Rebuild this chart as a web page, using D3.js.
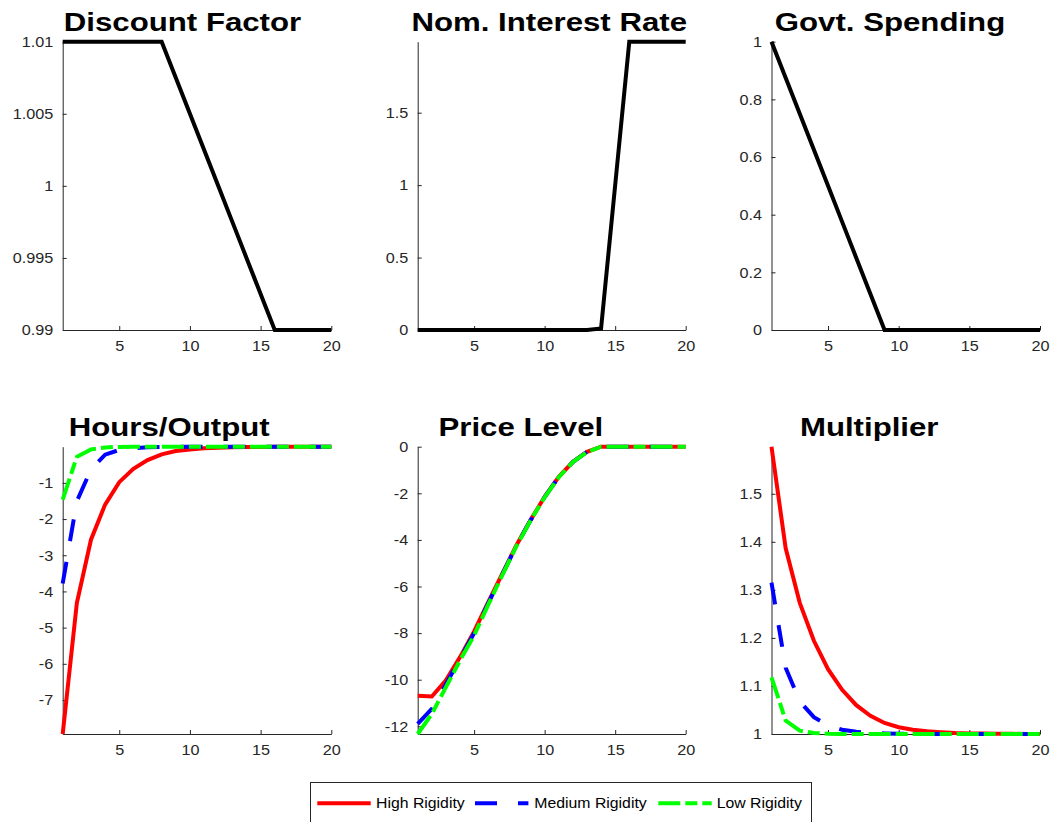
<!DOCTYPE html>
<html>
<head>
<meta charset="utf-8">
<script src="https://cdn.jsdelivr.net/npm/d3@7"></script>
<style>
  body { margin: 0; background: #fff; }
  svg { display: block; }
  text { font-family: "Liberation Sans", Arial, Helvetica, sans-serif; }
</style>
</head>
<body>
<svg id="chart" width="1054" height="822"></svg>
<script>
// ---- data: impulse responses over 20 quarters ----
const periods = d3.range(1, 21);

const discountFactor = [1.01, 1.01, 1.01, 1.01, 1.01, 1.01, 1.01, 1.01,
  1.0075, 1.005, 1.0025, 1.0, 0.9975, 0.995, 0.9925, 0.99, 0.99, 0.99, 0.99, 0.99];
const nominalRate = [0, 0, 0, 0, 0, 0, 0, 0, 0, 0, 0, 0, 0, 0.01, 1.0, 1.99, 1.99, 1.99, 1.99, 1.99];
const govSpending = [1, 0.875, 0.75, 0.625, 0.5, 0.375, 0.25, 0.125, 0, 0, 0, 0, 0, 0, 0, 0, 0, 0, 0, 0];

const hoursHigh = [-7.94, -4.32, -2.57, -1.60, -0.98, -0.61, -0.37, -0.21, -0.12, -0.075,
  -0.045, -0.027, -0.016, -0.010, -0.006, -0.0035, -0.002, -0.0012, -0.0007, -0.0004];
const hoursMedium = [-3.78, -1.51, -0.63, -0.22, -0.09, -0.04, -0.016, -0.007, -0.003, -0.0012,
  -0.0005, -0.0002, -0.0001, -0.0001, -0.0001, -0.0001, -0.0001, -0.0001, -0.0001, -0.0001];
const hoursLow = [-1.46, -0.28, -0.074, -0.02, -0.005, -0.0013, -0.0003, -0.0001, -0.0001, -0.0001,
  -0.0001, -0.0001, -0.0001, -0.0001, -0.0001, -0.0001, -0.0001, -0.0001, -0.0001, -0.0001];

const priceHigh = [-10.69, -10.72, -10.03, -9.03, -7.93, -6.67, -5.45, -4.23, -3.15, -2.15,
  -1.29, -0.65, -0.22, 0, 0, 0, 0, 0, 0, 0];
const priceMedium = [-11.9, -11.25, -10.2, -9.1, -8.0, -6.72, -5.48, -4.25, -3.16, -2.16,
  -1.30, -0.66, -0.22, 0, 0, 0, 0, 0, 0, 0];
const priceLow = [-12.33, -11.47, -10.32, -9.17, -8.1, -6.78, -5.51, -4.27, -3.17, -2.17,
  -1.31, -0.66, -0.23, 0, 0, 0, 0, 0, 0, 0];

const multiplierHigh = [1.598, 1.387, 1.273, 1.194, 1.135, 1.092, 1.060, 1.038, 1.023, 1.014,
  1.009, 1.0055, 1.0035, 1.002, 1.0013, 1.0008, 1.0005, 1.0003, 1.0002, 1.0001];
const multiplierMedium = [1.315, 1.138, 1.068, 1.035, 1.018, 1.009, 1.0045, 1.0022, 1.0011, 1.0005,
  1.0003, 1.0001, 1.0001, 1, 1, 1, 1, 1, 1, 1];
const multiplierLow = [1.118, 1.028, 1.007, 1.002, 1.0005, 1.0001, 1, 1, 1, 1,
  1, 1, 1, 1, 1, 1, 1, 1, 1, 1];

// ---- tick labels ----
const xTicks = [5, 10, 15, 20];
const discountTicks = [0.99, 0.995, 1, 1.005, 1.01];
const rateTicks = [0, 0.5, 1, 1.5];
const spendingTicks = [0, 0.2, 0.4, 0.6, 0.8, 1];
const hoursTicks = [-7, -6, -5, -4, -3, -2, -1];
const priceTicks = [-12, -10, -8, -6, -4, -2, 0];
const multiplierTicks = [1, 1.1, 1.2, 1.3, 1.4, 1.5];

const panelTitles = ["Discount Factor", "Nom. Interest Rate", "Govt. Spending",
  "Hours/Output", "Price Level", "Multiplier"];
const rigidityLabels = ["High Rigidity", "Medium Rigidity", "Low Rigidity"];

// ---- styling ----
const rigidityStyles = [
  { color: "#ff0000", dash: null },
  { color: "#0000ff", dash: "22,21" },
  { color: "#00ff00", dash: "22,5,12,5" }
];
const scenarioStyle = { color: "#000000", dash: null };
const axisColor = "#262626";

// panel grid geometry (plot-area edges) and title anchors
const colEdges = [[62.7, 331.3], [417.7, 685.7], [771.5, 1040]];
const rowEdges = [[41.7, 330], [446.7, 734]];
const titleCenters = [182.5, 549.2, 890, 169.2, 520.8, 869.2];
const titleBaselines = [30.7, 436];

const panels = [
  { title: panelTitles[0], ticks: discountTicks, series: [discountFactor], styles: [scenarioStyle] },
  { title: panelTitles[1], ticks: rateTicks, series: [nominalRate], styles: [scenarioStyle] },
  { title: panelTitles[2], ticks: spendingTicks, series: [govSpending], styles: [scenarioStyle] },
  { title: panelTitles[3], ticks: hoursTicks, series: [hoursHigh, hoursMedium, hoursLow], styles: rigidityStyles },
  { title: panelTitles[4], ticks: priceTicks, series: [priceHigh, priceMedium, priceLow], styles: rigidityStyles },
  { title: panelTitles[5], ticks: multiplierTicks, series: [multiplierHigh, multiplierMedium, multiplierLow], styles: rigidityStyles }
];

const svg = d3.select("#chart");
const fmt = v => String(+v.toFixed(4));

function stretchText(sel, sx) {
  sel.each(function () {
    const t = d3.select(this);
    const x = +t.attr("x") || 0;
    const y = +t.attr("y") || 0;
    t.attr("x", null).attr("y", null)
      .attr("transform", `translate(${x},${y}) scale(${sx},1)`);
  });
}

panels.forEach((p, i) => {
  const col = i % 3, row = Math.floor(i / 3);
  const [x0, x1] = colEdges[col];
  const [y0, y1] = rowEdges[row];

  const x = d3.scaleLinear().domain([1, 20]).range([x0, x1]);
  const all = p.series.flat();
  const y = d3.scaleLinear().domain(d3.extent(all)).range([y1, y0]);

  const g = svg.append("g");

  // x axis (ticks pointing inward)
  const gx = g.append("g")
    .attr("transform", `translate(0,${y1})`)
    .call(d3.axisBottom(x).tickValues(xTicks).tickFormat(fmt)
      .tickSizeInner(-4).tickSizeOuter(0).tickPadding(10));
  // y axis
  const gy = g.append("g")
    .attr("transform", `translate(${x0},0)`)
    .call(d3.axisLeft(y).tickValues(p.ticks).tickFormat(fmt)
      .tickSizeInner(-4).tickSizeOuter(0).tickPadding(9.5));

  [gx, gy].forEach(ax => {
    ax.select(".domain").attr("stroke", axisColor).attr("stroke-width", 1);
    ax.selectAll(".tick line").attr("stroke", axisColor).attr("stroke-width", 1);
    ax.selectAll(".tick text")
      .attr("fill", axisColor)
      .attr("font-size", 15)
      .attr("font-family", null);
    ax.attr("font-family", null).attr("font-size", null);
  });
  stretchText(gx.selectAll(".tick text"), 1.08);
  stretchText(gy.selectAll(".tick text"), 1.08);

  // series lines
  const line = d3.line()
    .x((d, k) => x(periods[k]))
    .y(d => y(d));

  p.series.forEach((vals, s) => {
    const st = p.styles[s];
    g.append("path")
      .datum(vals)
      .attr("d", line)
      .attr("fill", "none")
      .attr("stroke", st.color)
      .attr("stroke-width", 4)
      .attr("stroke-linejoin", "miter")
      .attr("stroke-linecap", "butt")
      .attr("stroke-dasharray", st.dash);
  });

  // title
  const t = g.append("text")
    .attr("x", titleCenters[i])
    .attr("y", titleBaselines[row])
    .attr("text-anchor", "middle")
    .attr("font-size", 26)
    .attr("font-weight", "bold")
    .attr("fill", "#000")
    .text(p.title);
  stretchText(t, 1.2);
});

// ---- legend ----
const legendBox = { x: 310.5, y: 782.5, w: 501, h: 40 };
const legendItems = [
  { lineX: 317.3, textX: 376 },
  { lineX: 475, textX: 534.3 },
  { lineX: 658.3, textX: 716.7 }
];
const legend = svg.append("g");
legend.append("rect")
  .attr("x", legendBox.x).attr("y", legendBox.y)
  .attr("width", legendBox.w).attr("height", legendBox.h)
  .attr("fill", "#fff").attr("stroke", axisColor).attr("stroke-width", 1);

rigidityLabels.forEach((label, k) => {
  const it = legendItems[k];
  const st = rigidityStyles[k];
  legend.append("line")
    .attr("x1", it.lineX).attr("x2", it.lineX + 53.4)
    .attr("y1", 803.3).attr("y2", 803.3)
    .attr("stroke", st.color).attr("stroke-width", 4)
    .attr("stroke-dasharray", st.dash);
  const t = legend.append("text")
    .attr("x", it.textX).attr("y", 808.3)
    .attr("font-size", 14).attr("fill", "#000")
    .text(label);
  stretchText(t, 1.13);
});
</script>
</body>
</html>
